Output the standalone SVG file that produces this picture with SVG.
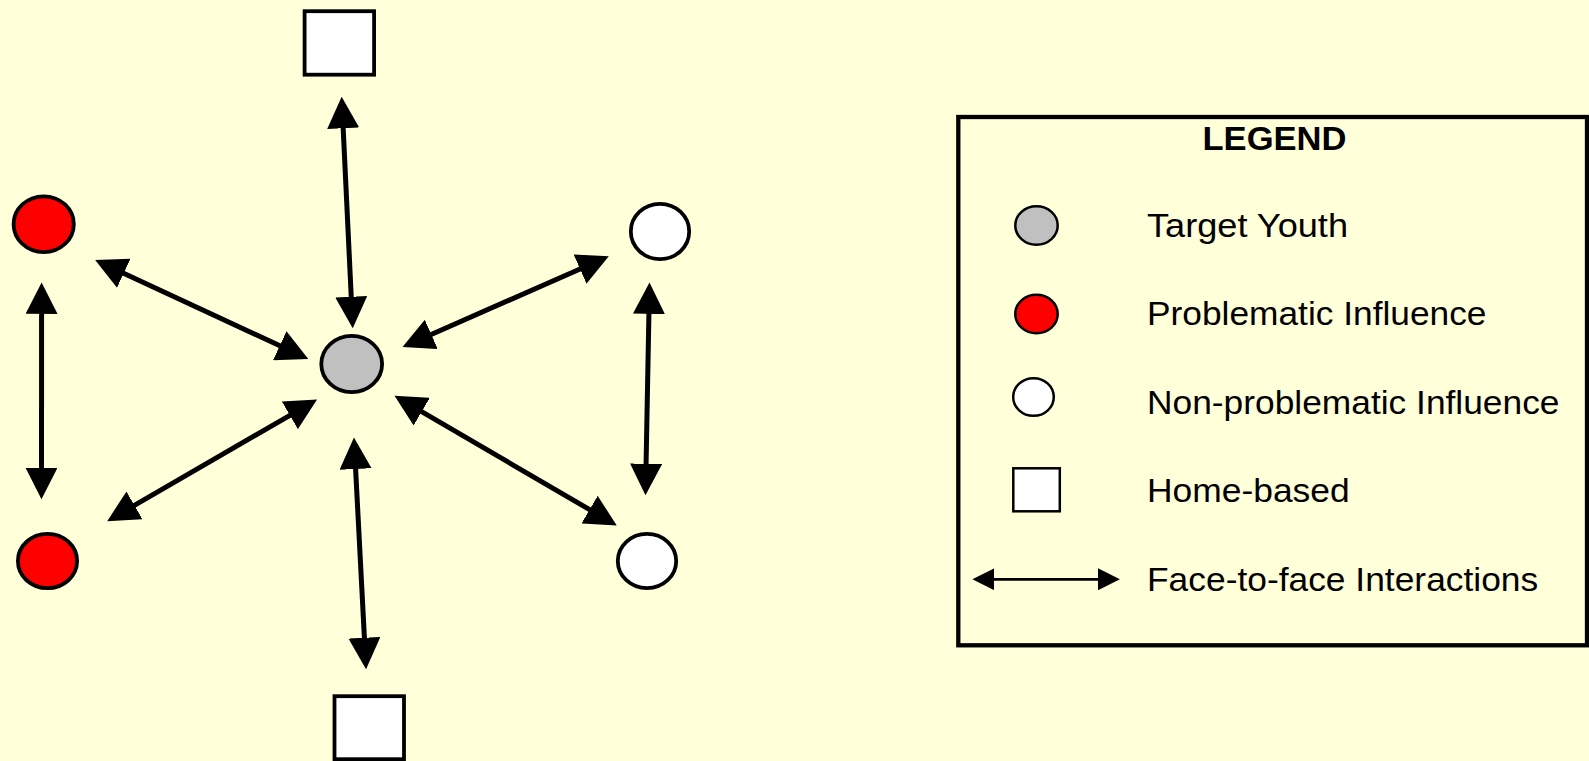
<svg xmlns="http://www.w3.org/2000/svg" width="1589" height="761" viewBox="0 0 1589 761">
  <defs>
    <marker id="ah" markerUnits="userSpaceOnUse" markerWidth="32" markerHeight="32" refX="2.5" refY="15.5" orient="auto-start-reverse" viewBox="0 0 31 31">
      <path d="M0,0 L30.5,15.5 L0,31 Z" fill="#000"/>
    </marker>
    <marker id="ahs" markerUnits="userSpaceOnUse" markerWidth="22" markerHeight="22" refX="1.5" refY="10.5" orient="auto-start-reverse" viewBox="0 0 21 21">
      <path d="M0,0 L21,10.5 L0,21 Z" fill="#000"/>
    </marker>
  </defs>
  <style>
    .bg { fill: #FFFFDA; }
    .conn line { stroke: #000; stroke-width: 5; marker-start: url(#ah); marker-end: url(#ah); }
    .node { stroke: #000; stroke-width: 3.8; }
    .lnode { stroke: #000; stroke-width: 2.5; }
    .gray { fill: #C0C0C0; }
    .red { fill: #FF0000; }
    .white { fill: #FFFFFF; }
    .txt { font-family: "Liberation Sans", Arial, sans-serif; font-size: 34px; fill: #000; }
    .title { font-family: "Liberation Sans", Arial, sans-serif; font-size: 34px; font-weight: bold; fill: #000; }
  </style>
  <rect class="bg" x="0" y="0" width="1589" height="761"/>

  <g id="connectors" class="conn">
    <line x1="343.04" y1="125.67" x2="351.36" y2="299.33"/>
    <line x1="121.4" y1="272.27" x2="282.1" y2="346.73"/>
    <line x1="582.37" y1="267.97" x2="428.93" y2="335.43"/>
    <line x1="41.6" y1="311.3" x2="41.5" y2="470.3"/>
    <line x1="648.97" y1="311.29" x2="646.03" y2="466.31"/>
    <line x1="292.07" y1="414.04" x2="132.23" y2="506.66"/>
    <line x1="419.49" y1="410.4" x2="591.81" y2="510.9"/>
    <line x1="355.46" y1="466.46" x2="364.54" y2="640.34"/>
  </g>

  <g id="home-top"><rect class="node white" x="304.6" y="11.2" width="69.5" height="63.5"/></g>
  <g id="home-bottom"><rect class="node white" x="334.5" y="696.2" width="69.5" height="63"/></g>
  <g id="target-youth"><ellipse class="node gray" cx="351.7" cy="364" rx="30.4" ry="28.1"/></g>
  <g id="problematic-top"><ellipse class="node red" cx="43.7" cy="224.2" rx="30.1" ry="27.9"/></g>
  <g id="problematic-bottom"><ellipse class="node red" cx="47.5" cy="561" rx="29.6" ry="27.2"/></g>
  <g id="nonproblematic-top"><ellipse class="node white" cx="660" cy="231.5" rx="29.2" ry="27.6"/></g>
  <g id="nonproblematic-bottom"><ellipse class="node white" cx="647" cy="561" rx="29.2" ry="27.2"/></g>

  <g id="legend">
    <rect x="958.3" y="117" width="628.7" height="528.3" fill="none" stroke="#000" stroke-width="4.3"/>
    <text class="title" x="1202.5" y="150" textLength="144" lengthAdjust="spacingAndGlyphs">LEGEND</text>
    <ellipse class="lnode gray" cx="1036.5" cy="225.5" rx="21.2" ry="19.2"/>
    <text class="txt" x="1147" y="236.7" textLength="201" lengthAdjust="spacingAndGlyphs">Target Youth</text>
    <ellipse class="lnode red" cx="1036.5" cy="314" rx="21.2" ry="19.2"/>
    <text class="txt" x="1147" y="325" textLength="339.5" lengthAdjust="spacingAndGlyphs">Problematic Influence</text>
    <ellipse class="lnode white" cx="1033.5" cy="397" rx="20.3" ry="18.8"/>
    <text class="txt" x="1147" y="413.5" textLength="412.5" lengthAdjust="spacingAndGlyphs">Non-problematic Influence</text>
    <rect class="lnode white" x="1013.3" y="468.3" width="46.5" height="43"/>
    <text class="txt" x="1147" y="502" textLength="202.7" lengthAdjust="spacingAndGlyphs">Home-based</text>
    <line x1="992.8" y1="579.3" x2="1099.5" y2="579.3" stroke="#000" stroke-width="2.7" marker-start="url(#ahs)" marker-end="url(#ahs)"/>
    <text class="txt" x="1147" y="590.5" textLength="391.2" lengthAdjust="spacingAndGlyphs">Face-to-face Interactions</text>
  </g>
</svg>
